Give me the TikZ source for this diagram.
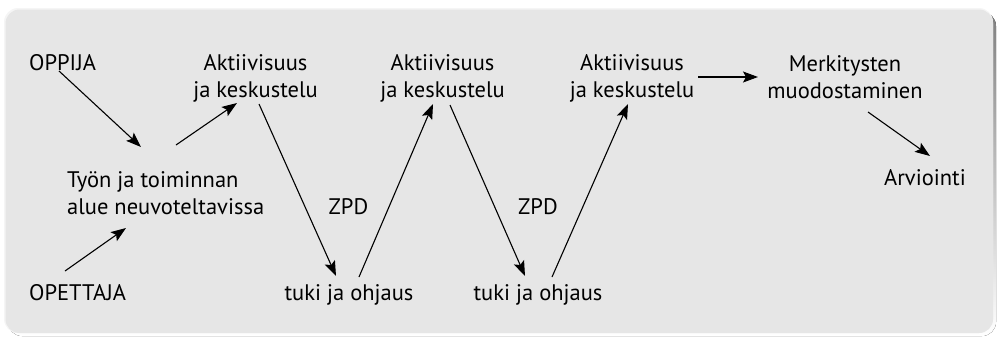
\documentclass[tikz,border=0pt]{standalone}
\usepackage{fontspec}
\setmainfont{PT Sans}
\usetikzlibrary{arrows.meta}
\definecolor{panel}{HTML}{E6E6E6}
\definecolor{shade}{HTML}{8C8C8C}
\tikzset{
  lbl/.style={inner sep=0pt, anchor=base, font=\fontsize{22.5}{27}\selectfont, align=center},
  lblleft/.style={lbl, anchor=base west, align=left},
  arr/.style={line width=1.1pt, -{Stealth[length=15pt,width=11pt,inset=3pt]}},
}
\begin{document}
\begin{tikzpicture}[x=1pt,y=-1pt]
\useasboundingbox (0,0) rectangle (999,338);
\fill[shade, rounded corners=14pt] (8,12) rectangle (996,336);
\fill[white!60!panel, rounded corners=14pt] (4,8) rectangle (993,333);
\fill[panel, rounded corners=14pt] (5.5,9.5) rectangle (993,333);

\node[lblleft] (oppija) at (29,70) {OPPIJA};
\node[lblleft] (opettaja) at (29,300) {OPETTAJA};
\node[lblleft] (tyon) at (67,214) {Työn ja toiminnan\\alue neuvoteltavissa};
\node[lbl] (akt1) at (255.5,97) {Aktiivisuus\\ja keskustelu};
\node[lbl] (akt2) at (442.5,97) {Aktiivisuus\\ja keskustelu};
\node[lbl] (akt3) at (632,97) {Aktiivisuus\\ja keskustelu};
\node[lbl] (merk) at (845,98) {Merkitysten\\muodostaminen};
\node[lbl] (arv) at (925,185) {Arviointi};
\node[lbl] (zpd1) at (348.5,214) {ZPD};
\node[lbl] (zpd2) at (538,214) {ZPD};
\node[lbl] (tuki1) at (349,300) {tuki ja ohjaus};
\node[lbl] (tuki2) at (538,300) {tuki ja ohjaus};

\coordinate (oppijaout) at (59,71);
\coordinate (tyonin1) at (141,147);
\coordinate (opettajaout) at (65,271);
\coordinate (tyonin2) at (126,228);
\coordinate (tyonout) at (176,145);
\coordinate (akt1in) at (237,103);
\coordinate (akt1out) at (259,104);
\coordinate (tuki1in) at (336,276);
\coordinate (tuki1out) at (359,277);
\coordinate (akt2in) at (433,104);
\coordinate (akt2out) at (450,105);
\coordinate (tuki2in) at (525,276);
\coordinate (tuki2out) at (552,277);
\coordinate (akt3in) at (628,104);
\coordinate (akt3out) at (698,77);
\coordinate (merkin) at (758,77);
\coordinate (merkout) at (868,112);
\coordinate (arvin) at (930,156);

\draw[arr] (oppijaout) -- (tyonin1);
\draw[arr] (opettajaout) -- (tyonin2);
\draw[arr] (tyonout) -- (akt1in);
\draw[arr] (akt1out) -- (tuki1in);
\draw[arr] (tuki1out) -- (akt2in);
\draw[arr] (akt2out) -- (tuki2in);
\draw[arr] (tuki2out) -- (akt3in);
\draw[arr] (akt3out) -- (merkin);
\draw[arr] (merkout) -- (arvin);
\end{tikzpicture}
\end{document}
